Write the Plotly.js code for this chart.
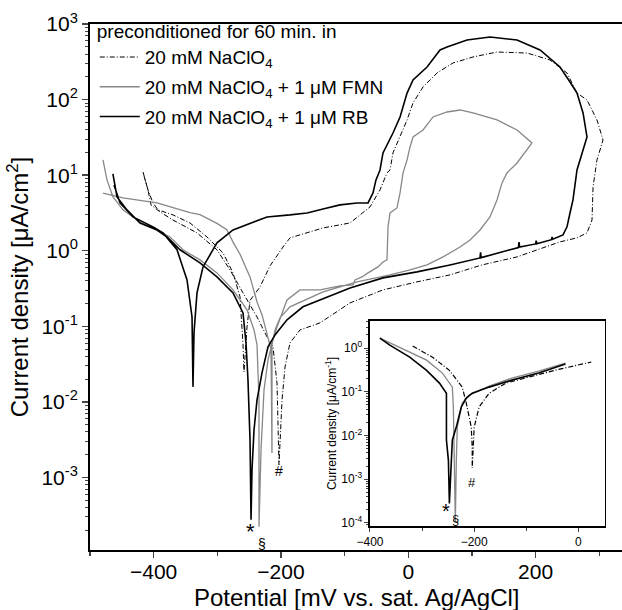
<!DOCTYPE html>
<html><head><meta charset="utf-8">
<script src="https://cdn.plot.ly/plotly-3.0.1.min.js"></script>
<style>html,body{margin:0;padding:0;background:#fff}</style>
</head><body>
<div id="chart" style="width:622px;height:610px"></div>
<script>
// ---- Main plot: cyclic polarization curves (potential in mV, current density in µA/cm²)
var naclo4E = [-416.7,-408.9,-404.2,-390.0,-369.6,-331.9,-300.5,-280.0,-259.6,-237.6,-221.9,-212.5,-206.2,-204.6,-203.1,-198.3,-193.6,-185.8,-170.1,-138.6,-91.5,-39.7,13.7,65.6,115.9,170.9,238.4,265.1,280.8,288.7,290.3,290.3,296.5,306.0,296.5,280.8,265.1,249.4,222.7,186.6,139.4,101.7,70.3,45.2,23.2,7.5,-1.9,-12.9,-24.0,-28.7,-33.4,-44.4,-60.1,-91.5,-133.9,-185.8,-196.8,-217.2,-232.9,-248.6,-253.3,-258.1,-259.6,-264.3,-275.3,-291.0,-316.2,-342.9,-369.6,-393.2,-401.0,-408.9,-415.2];
var naclo4I = [11.0,6.37,4.04,3.26,2.55,1.72,1.03,0.557,0.277,0.133,0.0724,0.0534,0.0178,0.00389,0.00147,0.0106,0.029,0.0603,0.0895,0.111,0.204,0.303,0.387,0.479,0.649,0.828,1.31,1.48,1.72,2.55,4.70,6.98,15.9,29.2,53.7,98.8,122,225,334,413,426,366,305,225,147,90.2,53.7,32.0,19.7,11.7,10.7,6.37,3.80,2.33,2.00,1.48,1.12,0.63,0.332,0.22,0.098,0.0249,0.0567,0.245,0.509,0.935,1.52,2.33,2.98,3.47,4.29,6.37,9.76];

var fmnE = [-479.6,-473.3,-463.9,-448.2,-421.4,-394.7,-374.3,-353.9,-327.2,-300.5,-275.3,-253.3,-242.3,-237.6,-234.5,-234.5,-231.3,-226.6,-220.3,-212.5,-206.2,-190.5,-170.1,-138.6,-107.2,-86.8,-83.7,-72.7,-63.2,-55.4,-47.5,-39.7,-33.4,-31.8,-28.7,-17.7,-12.9,-8.2,-1.9,2.8,7.5,23.2,38.9,60.9,81.3,101.7,139.4,170.9,194.4,170.9,155.1,147.3,139.4,128.4,112.7,97.0,81.3,54.6,29.5,2.8,-28.7,-80.5,-133.9,-185.8,-201.5,-209.3,-214.1,-214.1,-215.6,-223.5,-229.8,-237.6,-248.6,-253.3,-264.3,-275.3,-285.0,-300.5,-327.2,-342.9,-394.7,-448.2,-479.6];
var fmnI = [15.9,8.65,5.15,3.47,2.40,1.88,1.52,1.03,0.756,0.509,0.303,0.165,0.0895,0.0567,0.0106,0.000222,0.00232,0.0144,0.036,0.0661,0.098,0.223,0.303,0.303,0.342,0.353,0.411,0.450,0.509,0.557,0.611,0.711,0.756,2.07,3.16,3.68,5.82,10.7,15.9,23.6,32.0,39.6,58.9,68.5,72.8,66.5,53.7,39.6,26.7,14.5,10.7,7.89,4.70,2.80,1.88,1.39,1.12,0.828,0.649,0.557,0.479,0.387,0.285,0.181,0.129,0.0895,0.0567,0.00211,0.0488,0.0895,0.142,0.21,0.45,0.55,0.9,1.3,1.9,2.3,3.0,3.2,4.3,5.0,5.8];

var rbE = [-464.0,-457.6,-441.9,-421.4,-394.7,-379.0,-358.6,-327.2,-300.5,-275.3,-259.6,-254.9,-251.8,-248.6,-247.0,-245.5,-242.3,-237.6,-229.8,-220.3,-209.3,-190.5,-165.4,-138.6,-91.5,-39.7,13.7,65.6,112.7,113.6,114.5,159.9,173.0,174.0,175.0,200.0,201.0,202.0,225.0,226.0,227.0,243.1,249.4,254.1,258.8,265.1,273.0,280.8,274.6,265.1,254.1,238.4,207.0,170.9,128.4,92.3,60.9,49.9,29.5,7.5,-1.9,-12.9,-24.0,-39.7,-44.4,-50.7,-55.4,-63.2,-80.5,-107.2,-133.9,-159.1,-185.8,-221.9,-275.3,-300.5,-322.5,-331.9,-336.6,-338.2,-339.7,-347.6,-363.3,-385.3,-401.0,-432.4,-452.9,-459.2,-462.3];
var rbI = [10.4,5.15,3.47,2.33,1.88,1.52,1.03,0.69,0.45,0.277,0.150,0.060,0.0195,0.00314,0.000275,0.00126,0.00427,0.0106,0.0242,0.0534,0.0769,0.122,0.181,0.223,0.322,0.437,0.525,0.649,0.803,0.95,0.81,1.03,1.10,1.30,1.12,1.23,1.36,1.24,1.40,1.52,1.42,1.62,2.07,3.16,4.70,11.7,19.7,32.0,66.5,122,171,270,453,614,673,614,496,453,270,182,122,58.9,36.1,19.7,11.7,8.65,5.82,4.29,4.29,4.04,3.57,3.16,2.98,2.80,1.88,1.27,0.61,0.277,0.082,0.0158,0.133,0.411,1.03,1.72,2.07,2.80,4.29,6.37,7.4];

// ---- Inset: forward scans near the corrosion potential
var insNaE = [-318.1,-280.0,-247.6,-222.9,-215.2,-205.7,-203.8,-203.8,-201.9,-200.0,-190.5,-171.4,-139.0,-95.2,-43.8,24.8];
var insNaI = [1.11,0.62,0.31,0.128,0.055,0.0156,0.0054,0.0018,0.0054,0.0156,0.045,0.093,0.158,0.217,0.314,0.48];
var insFmnE = [-381.0,-342.9,-291.4,-260.9,-241.9,-240.0,-238.1,-236.2,-234.3,-232.4,-222.9,-209.5,-171.4,-127.6,-76.2,-24.8];
var insFmnI = [1.69,1.05,0.53,0.268,0.128,0.045,0.0027,0.000105,0.0027,0.0156,0.055,0.084,0.135,0.206,0.298,0.454];
var insRbE = [-381.0,-361.9,-323.8,-291.4,-266.7,-253.3,-253.3,-253.3,-249.5,-247.6,-243.8,-241.9,-234.3,-224.8,-215.2,-203.8,-171.4,-127.6,-76.2,-24.8];
var insRbI = [1.69,1.17,0.62,0.31,0.158,0.093,0.045,0.0079,0.0027,0.00028,0.0027,0.0079,0.0156,0.045,0.072,0.093,0.128,0.185,0.268,0.43];

// ---- Tick labels
var yTickVals = [0.001, 0.01, 0.1, 1, 10, 100, 1000];
var yTickText = ['10<sup>-3</sup>','10<sup>-2</sup>','10<sup>-1</sup>','10<sup>0</sup>','10<sup>1</sup>','10<sup>2</sup>','10<sup>3</sup>'];
var insYTickVals = [0.0001, 0.001, 0.01, 0.1, 1];
var insYTickText = ['10<sup>-4</sup>','10<sup>-3</sup>','10<sup>-2</sup>','10<sup>-1</sup>','10<sup>0</sup>'];

var legendNames = ['20 mM NaClO<sub>4</sub>','20 mM NaClO<sub>4</sub> + 1 μM FMN','20 mM NaClO<sub>4</sub> + 1 μM RB'];
var legendTitle = 'preconditioned for 60 min. in';
var xTitle = 'Potential [mV vs. sat. Ag/AgCl]';
var yTitle = 'Current density [μA/cm<sup>2</sup>]';
var insetYTitle = 'Current density [μA/cm<sup>-1</sup>]';

// minor log ticks (2..9 in every decade)
function logMinor(lo, hi) {
  var v = [];
  for (var e = lo; e <= hi; e++) for (var m = 2; m <= 9; m++) v.push(m * Math.pow(10, e));
  return v;
}

var dashDot = '5px,2px,1px,2px';
var FONT = 'Liberation Sans, Arial, sans-serif';

var traces = [
  {x: naclo4E, y: naclo4I, mode:'lines', name: legendNames[0], legendgroup:'a',
   line:{color:'#000', width:1, dash:dashDot}},
  {x: fmnE, y: fmnI, mode:'lines', name: legendNames[1], legendgroup:'b',
   line:{color:'#878787', width:1.3}},
  {x: rbE, y: rbI, mode:'lines', name: legendNames[2], legendgroup:'c',
   line:{color:'#000', width:1.6}},
  {x: insNaE, y: insNaI, mode:'lines', xaxis:'x2', yaxis:'y2', showlegend:false,
   line:{color:'#000', width:1.2, dash:dashDot}},
  {x: insFmnE, y: insFmnI, mode:'lines', xaxis:'x2', yaxis:'y2', showlegend:false,
   line:{color:'#878787', width:1.3}},
  {x: insRbE, y: insRbI, mode:'lines', xaxis:'x2', yaxis:'y2', showlegend:false,
   line:{color:'#000', width:1.6}}
];

var layout = {
  width: 622, height: 610,
  margin: {l: 90, r: 0, t: 24, b: 60},
  paper_bgcolor: '#fff', plot_bgcolor: 'rgba(0,0,0,0)',
  font: {family: FONT, color: '#000', size: 19},
  showlegend: true,
  legend: {x: 0.009, y: 1.02, xanchor: 'left', yanchor: 'top', bgcolor: 'rgba(0,0,0,0)',
           font: {family: FONT, size: 19}, tracegroupgap: 2, itemwidth: 40,
           title: {text: legendTitle, font: {family: FONT, size: 19}, side: 'top'}},
  xaxis: {
    range: [-500, 335.8], domain: [0, 1], showgrid: false, zeroline: false,
    showline: true, linewidth: 2, linecolor: '#000', mirror: true,
    ticks: 'outside', ticklen: 6, tickwidth: 1.5, dtick: 200, tick0: 0,
    ticklabelstandoff: -4,
    tickfont: {family: FONT, size: 21},
    minor: {ticks: 'outside', ticklen: 4, dtick: 100, tick0: 0, tickwidth: 1.2}
  },
  yaxis: {
    type: 'log', range: [-3.96, 3], domain: [0, 1], showgrid: false, zeroline: false,
    showline: true, linewidth: 2, linecolor: '#000',
    ticks: 'outside', ticklen: 6, tickwidth: 1.5,
    tickmode: 'array', tickvals: yTickVals, ticktext: yTickText,
    tickfont: {family: FONT, size: 21},
    minor: {ticks: 'outside', ticklen: 3, tickwidth: 1, tickmode: 'array', tickvals: logMinor(-4, 2)},
    title: {text: yTitle, font: {family: FONT, size: 24}, standoff: 6}
  },
  xaxis2: {
    anchor: 'y2', domain: [0.5263, 0.968], range: [-400, 51],
    showgrid: false, zeroline: false, showline: true, linewidth: 1.5, linecolor: '#000', mirror: true,
    ticks: 'outside', ticklen: 4, dtick: 200, tick0: 0,
    minor: {ticks: 'outside', ticklen: 3, dtick: 100, tick0: 0},
    tickfont: {family: FONT, size: 12}
  },
  yaxis2: {
    anchor: 'x2', type: 'log', domain: [0.0456, 0.4354], range: [-4.07, 0.62],
    showgrid: false, zeroline: false, showline: true, linewidth: 1.5, linecolor: '#000', mirror: true,
    ticks: 'outside', ticklen: 4,
    tickmode: 'array', tickvals: insYTickVals, ticktext: insYTickText,
    minor: {ticks: 'outside', ticklen: 2, tickmode: 'array', tickvals: logMinor(-5, 0)},
    tickfont: {family: FONT, size: 12},
    title: {text: insetYTitle, font: {family: FONT, size: 12}, standoff: 2}
  },
  annotations: [
    {xref:'paper', yref:'paper', x: 0.5, y: -0.091, yanchor: 'middle', xanchor: 'center',
     text: xTitle, showarrow: false, font:{size: 24, family: FONT}},
    {xref:'x', yref:'y', x: -248.6, y: -3.71, text: '*', showarrow: false, font:{size: 22, family: FONT}},
    {xref:'x', yref:'y', x: -229.8, y: -3.88, text: '§', showarrow: false, font:{size: 14, family: FONT}},
    {xref:'x', yref:'y', x: -203.1, y: -2.91, text: '#', showarrow: false, font:{size: 14, family: FONT}},
    {xref:'x2', yref:'y2', x: -253.3, y: -3.72, text: '*', showarrow: false, font:{size: 20, family: FONT}},
    {xref:'x2', yref:'y2', x: -236.2, y: -3.91, text: '§', showarrow: false, font:{size: 13, family: FONT}},
    {xref:'x2', yref:'y2', x: -203.8, y: -3.07, text: '#', showarrow: false, font:{size: 13, family: FONT}}
  ]
};

Plotly.newPlot('chart', traces, layout, {displayModeBar: false, staticPlot: true});
</script>
</body></html>
